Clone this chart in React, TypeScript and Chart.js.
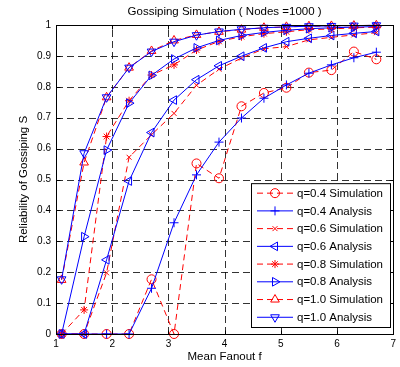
import React, { useEffect, useRef } from 'react';
import { Chart, registerables } from 'chart.js';

Chart.register(...registerables);

// ---------- data ----------
const fanout = [1.1, 1.5, 1.9, 2.3, 2.7, 3.1, 3.5, 3.9, 4.3, 4.7, 5.1, 5.5, 5.9, 6.3, 6.7];
const xTickValues = [1, 2, 3, 4, 5, 6, 7];
const yTickValues = [0, 0.1, 0.2, 0.3, 0.4, 0.5, 0.6, 0.7, 0.8, 0.9, 1];

const q04Simulation = [0, 0, 0, 0, 0.177, 0, 0.552, 0.504, 0.737, 0.78, 0.797, 0.846, 0.854, 0.914, 0.889];
const q04Analysis = [0, 0, 0, 0, 0.148, 0.36, 0.515, 0.621, 0.699, 0.763, 0.806, 0.844, 0.871, 0.894, 0.912];
const q06Simulation = [0, 0, 0.198, 0.572, 0.645, 0.714, 0.805, 0.857, 0.893, 0.923, 0.93, 0.952, 0.96, 0.968, 0.975];
const q06Analysis = [0, 0, 0.24, 0.495, 0.652, 0.757, 0.823, 0.868, 0.899, 0.926, 0.946, 0.957, 0.966, 0.973, 0.979];
const q08Simulation = [0, 0.078, 0.639, 0.755, 0.838, 0.871, 0.919, 0.947, 0.962, 0.972, 0.978, 0.985, 0.987, 0.991, 0.993];
const q08Analysis = [0, 0.315, 0.595, 0.747, 0.837, 0.89, 0.926, 0.95, 0.966, 0.976, 0.983, 0.988, 0.991, 0.993, 0.995];
const q10Simulation = [0.175, 0.555, 0.766, 0.862, 0.916, 0.95, 0.968, 0.978, 0.985, 0.991, 0.994, 0.996, 0.997, 0.998, 0.999];
const q10Analysis = [0.177, 0.585, 0.766, 0.862, 0.914, 0.946, 0.967, 0.979, 0.986, 0.991, 0.994, 0.996, 0.997, 0.998, 0.999];

const seriesLabels = [
  'q=0.4 Simulation',
  'q=0.4 Analysis',
  'q=0.6 Simulation',
  'q=0.6 Analysis',
  'q=0.8 Simulation',
  'q=0.8 Analysis',
  'q=1.0 Simulation',
  'q=1.0 Analysis',
];
const seriesValues = [
  q04Simulation, q04Analysis,
  q06Simulation, q06Analysis,
  q08Simulation, q08Analysis,
  q10Simulation, q10Analysis,
];

const titleText = 'Gossiping Simulation ( Nodes =1000 )';
const xAxisTitle = 'Mean Fanout f';
const yAxisTitle = 'Reliability of Gossiping S';

// ---------- styles ----------
const RED = '#ff0000';
const BLUE = '#0000ff';
const FONT = '"Liberation Sans", Arial, Helvetica, sans-serif';

type MarkerStyle = { color: string; dashed: boolean; marker: string; rotation: number; radius: number };
const seriesStyles: MarkerStyle[] = [
  { color: RED, dashed: true, marker: 'circle', rotation: 0, radius: 4.5 },
  { color: BLUE, dashed: false, marker: 'cross', rotation: 0, radius: 4.5 },
  { color: RED, dashed: true, marker: 'crossRot', rotation: 0, radius: 3.5 },
  { color: BLUE, dashed: false, marker: 'triangle', rotation: -90, radius: 5 },
  { color: RED, dashed: true, marker: 'star', rotation: 0, radius: 4 },
  { color: BLUE, dashed: false, marker: 'triangle', rotation: 90, radius: 5 },
  { color: RED, dashed: true, marker: 'triangle', rotation: 0, radius: 5 },
  { color: BLUE, dashed: false, marker: 'triangle', rotation: 180, radius: 5 },
];

function strokeMarker(ctx: CanvasRenderingContext2D, s: MarkerStyle, x: number, y: number) {
  const r = s.radius;
  let rad = (s.rotation * Math.PI) / 180;
  ctx.beginPath();
  if (s.marker === 'circle') {
    ctx.arc(x, y, r, 0, Math.PI * 2);
  } else if (s.marker === 'cross' || s.marker === 'star' || s.marker === 'crossRot') {
    if (s.marker !== 'crossRot') {
      ctx.moveTo(x, y - r); ctx.lineTo(x, y + r);
      ctx.moveTo(x - r, y); ctx.lineTo(x + r, y);
    }
    if (s.marker !== 'cross') {
      const d = r * Math.SQRT1_2;
      ctx.moveTo(x - d, y - d); ctx.lineTo(x + d, y + d);
      ctx.moveTo(x - d, y + d); ctx.lineTo(x + d, y - d);
    }
  } else if (s.marker === 'triangle') {
    const step = (2 * Math.PI) / 3;
    ctx.moveTo(x + Math.sin(rad) * r, y - Math.cos(rad) * r);
    rad += step;
    ctx.lineTo(x + Math.sin(rad) * r, y - Math.cos(rad) * r);
    rad += step;
    ctx.lineTo(x + Math.sin(rad) * r, y - Math.cos(rad) * r);
    ctx.closePath();
  }
  ctx.stroke();
}

const matlabAxesPlugin = {
  id: 'matlabAxes',
  beforeDatasetsDraw(chart: any) {
    const { ctx, chartArea: a, scales } = chart;
    const L = Math.round(a.left), R = Math.round(a.right), T = Math.round(a.top), B = Math.round(a.bottom);
    ctx.save();
    ctx.strokeStyle = 'rgba(0,0,0,0.8)';
    ctx.lineWidth = 1;
    ctx.setLineDash([7, 4]);
    xTickValues.forEach((v) => {
      const px = Math.round(scales.x.getPixelForValue(v)) + 0.5;
      if (Math.abs(px - 0.5 - L) < 1 || Math.abs(px - 0.5 - R) < 1) return;
      ctx.beginPath(); ctx.moveTo(px, B); ctx.lineTo(px, T); ctx.stroke();
    });
    yTickValues.forEach((v) => {
      const py = Math.round(scales.y.getPixelForValue(v)) + 0.5;
      if (Math.abs(py - 0.5 - T) < 1 || Math.abs(py - 0.5 - B) < 1) return;
      ctx.beginPath(); ctx.moveTo(L, py); ctx.lineTo(R, py); ctx.stroke();
    });
    ctx.restore();
  },
  afterDatasetsDraw(chart: any) {
    const { ctx, chartArea: a, scales } = chart;
    const L = Math.round(a.left) + 0.5, R = Math.round(a.right) + 0.5, T = Math.round(a.top) + 0.5, B = Math.round(a.bottom) + 0.5;
    ctx.save();
    ctx.setLineDash([]);
    ctx.strokeStyle = '#000';
    ctx.lineWidth = 1;
    // inward tick marks
    const tl = 4;
    xTickValues.forEach((v) => {
      const px = Math.round(scales.x.getPixelForValue(v)) + 0.5;
      ctx.beginPath();
      ctx.moveTo(px, B); ctx.lineTo(px, B - tl);
      ctx.moveTo(px, T); ctx.lineTo(px, T + tl);
      ctx.stroke();
    });
    yTickValues.forEach((v) => {
      const py = Math.round(scales.y.getPixelForValue(v)) + 0.5;
      ctx.beginPath();
      ctx.moveTo(L, py); ctx.lineTo(L + tl, py);
      ctx.moveTo(R, py); ctx.lineTo(R - tl, py);
      ctx.stroke();
    });
    // box
    ctx.strokeRect(L, T, R - L, B - T);

    // title
    ctx.fillStyle = '#000';
    ctx.font = `11.5px ${FONT}`;
    ctx.textAlign = 'center';
    ctx.textBaseline = 'alphabetic';
    ctx.fillText(titleText, (a.left + a.right) / 2, 15);

    // legend
    const lgRight = R - 3;
    const lgBottom = B - 7;
    const lgLeft = 251.5;
    const rowH = 17.73;
    const lgTop = lgBottom - rowH * seriesLabels.length - 2;
    ctx.fillStyle = '#fff';
    ctx.fillRect(lgLeft, lgTop, lgRight - lgLeft, lgBottom - lgTop);
    ctx.strokeStyle = '#000';
    ctx.strokeRect(lgLeft, lgTop, lgRight - lgLeft, lgBottom - lgTop);
    ctx.textAlign = 'left';
    ctx.textBaseline = 'middle';
    seriesLabels.forEach((label, i) => {
      const s = seriesStyles[i];
      const cy = lgTop + 9.5 + rowH * i;
      ctx.strokeStyle = s.color;
      ctx.lineWidth = 1;
      ctx.setLineDash(s.dashed ? [6, 4] : []);
      ctx.beginPath();
      ctx.moveTo(lgLeft + 5.5, cy); ctx.lineTo(lgLeft + 41.5, cy);
      ctx.stroke();
      ctx.setLineDash([]);
      strokeMarker(ctx, s, lgLeft + 23.5, cy);
      ctx.fillStyle = '#000';
      ctx.fillText(label, lgLeft + 45.5, cy + 0.5);
    });
    ctx.restore();
  },
};

export default function App() {
  const canvasRef = useRef<HTMLCanvasElement | null>(null);

  useEffect(() => {
    const canvas = canvasRef.current;
    if (!canvas) return;
    const datasets = seriesValues.map((vals, i) => {
      const s = seriesStyles[i];
      return {
        label: seriesLabels[i],
        data: fanout.map((x, j) => ({ x, y: vals[j] })),
        borderColor: s.color,
        backgroundColor: 'rgba(0,0,0,0)',
        borderWidth: 1,
        borderDash: s.dashed ? [6, 4] : [],
        pointStyle: s.marker,
        pointRotation: s.rotation,
        pointRadius: s.radius,
        pointHoverRadius: s.radius,
        pointBorderColor: s.color,
        pointBackgroundColor: 'rgba(0,0,0,0)',
        pointBorderWidth: 1,
        tension: 0,
        fill: false,
        clip: false,
        order: 7 - i,
      };
    });

    const chart = new Chart(canvas, {
      type: 'line',
      data: { datasets },
      options: {
        responsive: false,
        animation: false,
        devicePixelRatio: 1,
        layout: { padding: { left: 14, right: 3, top: 25, bottom: 0 } },
        plugins: {
          legend: { display: false },
          tooltip: { enabled: false },
          title: { display: false },
        },
        scales: {
          x: {
            type: 'linear',
            min: 1,
            max: 7,
            afterFit: (scale: any) => { scale.height = 33; },
            grid: { display: false, drawTicks: false },
            border: { display: false },
            ticks: {
              stepSize: 1,
              autoSkip: false,
              maxRotation: 0,
              padding: 4,
              color: '#000',
              font: { family: FONT, size: 10 },
              callback: (v: any) => String(v),
            },
            title: {
              display: true,
              text: xAxisTitle,
              color: '#000',
              font: { family: FONT, size: 11.5 },
              padding: { top: 0, bottom: 3 },
            },
          },
          y: {
            type: 'linear',
            min: 0,
            max: 1,
            afterFit: (scale: any) => { scale.width = 42; },
            grid: { display: false, drawTicks: false },
            border: { display: false },
            ticks: {
              stepSize: 0.1,
              autoSkip: false,
              padding: 5,
              color: '#000',
              font: { family: FONT, size: 10 },
              callback: (v: any) => String(Math.round(Number(v) * 10) / 10),
            },
            title: {
              display: true,
              text: yAxisTitle,
              color: '#000',
              font: { family: FONT, size: 11.5 },
              padding: { top: 3, bottom: 0 },
            },
          },
        },
      } as any,
      plugins: [matlabAxesPlugin],
    });
    return () => chart.destroy();
  }, []);

  return (
    <div style={{ position: 'absolute', left: 0, top: 0, width: 400, height: 367, background: '#fff' }}>
      <canvas ref={canvasRef} width={400} height={367} style={{ display: 'block', width: 400, height: 367 }} />
    </div>
  );
}
